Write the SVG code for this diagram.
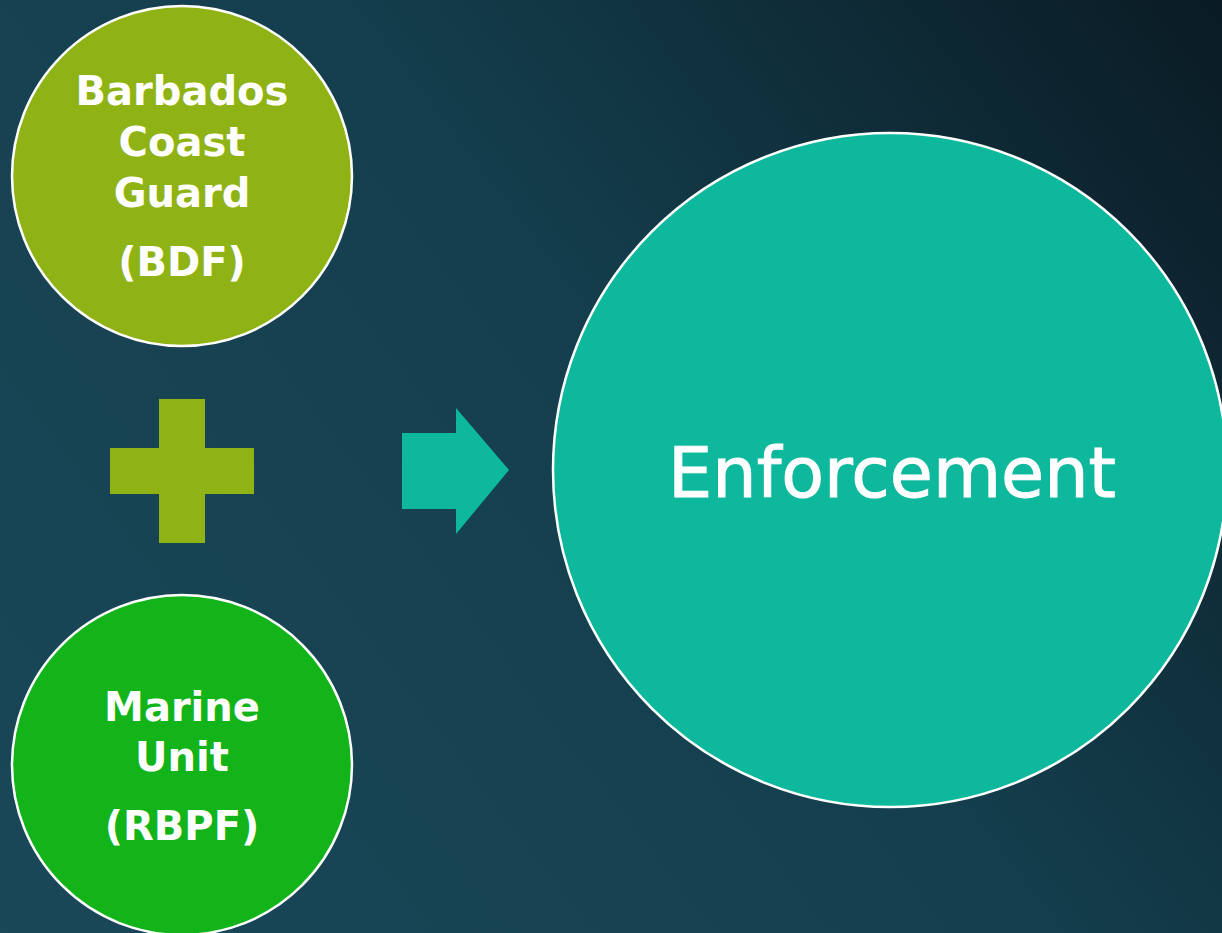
<svg xmlns="http://www.w3.org/2000/svg" width="1222" height="933" viewBox="0 0 1222 933">
  <defs>
    <linearGradient id="bg" x1="0" y1="933" x2="1222" y2="0" gradientUnits="userSpaceOnUse">
      <stop offset="0" stop-color="#1a4859"/>
      <stop offset="0.55" stop-color="#143e4d"/>
      <stop offset="1" stop-color="#0a1b24"/>
    </linearGradient>
    <style>
      .node { stroke: #ffffff; stroke-width: 2.5; }
      .lbl { fill: #ffffff; font-family: "DejaVu Sans", "Liberation Sans", sans-serif; text-anchor: middle; }
      .small { font-size: 40px; font-weight: bold; }
      .big { font-size: 70px; stroke: #ffffff; stroke-width: 1; }
    </style>
  </defs>
  <rect x="0" y="0" width="1222" height="933" fill="url(#bg)"/>

  <g id="coast-guard">
    <circle class="node" cx="182" cy="176" r="170" fill="#8fb315"/>
    <text class="lbl small" x="182" y="105">Barbados</text>
    <text class="lbl small" x="182" y="156">Coast</text>
    <text class="lbl small" x="182" y="207">Guard</text>
    <text class="lbl small" x="182" y="276">(BDF)</text>
  </g>

  <g id="marine-unit">
    <circle class="node" cx="182" cy="765" r="170" fill="#12b41a"/>
    <text class="lbl small" x="182" y="721">Marine</text>
    <text class="lbl small" x="182" y="771">Unit</text>
    <text class="lbl small" x="182" y="840">(RBPF)</text>
  </g>

  <g id="plus">
    <path d="M159,399 H205 V448 H254 V494 H205 V543 H159 V494 H110 V448 H159 Z" fill="#8fb315"/>
  </g>

  <g id="connectors">
    <path d="M402,433 H456 V408 L509,470 L456,534 V509 H402 Z" fill="#0db89c"/>
  </g>

  <g id="enforcement">
    <circle class="node" cx="890" cy="470" r="337" fill="#0db89c"/>
    <text class="lbl big" x="892" y="497">Enforcement</text>
  </g>
</svg>
